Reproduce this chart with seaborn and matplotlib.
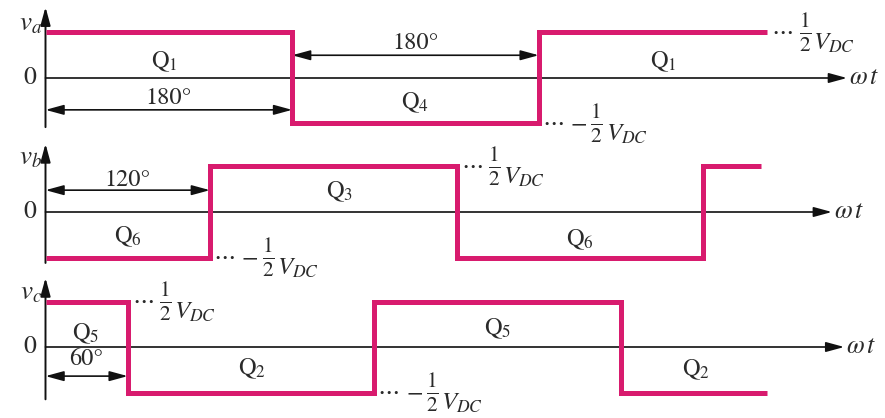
import matplotlib
matplotlib.use("Agg")
import matplotlib.pyplot as plt
import seaborn as sns
import pandas as pd

sns.set_style("white")
plt.rcParams["mathtext.fontset"] = "stix"
plt.rcParams["font.family"] = ["STIXGeneral", "DejaVu Serif"]

# ---- waveform data: switching angles (deg) and output level in units of Vdc/2
switch_a = [0, 180, 360, 527]
level_a = [1, -1, 1, 1]
switch_b = [0, 120, 300, 480, 522]
level_b = [-1, 1, -1, 1, 1]
switch_c = [0, 60, 240, 420, 527]
level_c = [1, -1, 1, -1, -1]

phase_labels = [r"$v_a$", r"$v_b$", r"$v_c$"]

# conducting switch labels: (text, angle, level)
devices_a = [(r"$\mathrm{Q}_1$", 87, 0.36), (r"$\mathrm{Q}_4$", 270, -0.55), (r"$\mathrm{Q}_1$", 451, 0.35)]
devices_b = [(r"$\mathrm{Q}_6$", 60, -0.55), (r"$\mathrm{Q}_3$", 215, 0.44), (r"$\mathrm{Q}_6$", 390, -0.62)]
devices_c = [(r"$\mathrm{Q}_5$", 29, 0.28), (r"$\mathrm{Q}_2$", 151, -0.48),
             (r"$\mathrm{Q}_5$", 330, 0.39), (r"$\mathrm{Q}_2$", 475, -0.5)]

# angle dimensions: (start, end, arrow level, text, text level)
spans_a = [(0, 180, -0.70, "180°", -0.44), (180, 360, 0.50, "180°", 0.77)]
spans_b = [(0, 120, 0.48, "120°", 0.70)]
spans_c = [(0, 60, -0.64, "60°", -0.28)]

# corners where the +/- Vdc/2 levels are annotated
vdc_high = [(527, 1), (300, 1), (60, 1)]
vdc_low = [(360, -1), (120, -1), (240, -1)]

axis_tip = [585, 574, 583]          # end of the wt axis (deg)
yaxis_span = [(-1.08, 1.56), (-1.12, 1.50), (-1.15, 1.52)]

# ---- layout
W, H = 885, 418
PX_PER_DEG = 1.37
X0 = 45.5
AMP = 45.5
zero_rows = [78, 212, 347]
YLO, YHI = -1.6, 1.7
PINK = "#D81B6E"
INK = "#2a2a2a"
FS = 17.5
PT = 0.72  # points per pixel at 100 dpi

fig = plt.figure(figsize=(W / 100, H / 100), dpi=100)

panels = [
    (switch_a, level_a, devices_a, spans_a),
    (switch_b, level_b, devices_b, spans_b),
    (switch_c, level_c, devices_c, spans_c),
]


def note(ax, txt, xy, dx_px, dy_px, size, ha, va):
    ax.annotate(txt, xy=xy, xytext=(dx_px * PT, dy_px * PT), textcoords="offset points",
                fontsize=size, ha=ha, va=va, color=INK, annotation_clip=False)


for i, (sw, lv, devs, spans) in enumerate(panels):
    z = zero_rows[i]
    top = z - YHI * AMP
    bottom = z - YLO * AMP
    ax = fig.add_axes([0, 1 - bottom / H, 1, (bottom - top) / H])
    ax.set_xlim(-X0 / PX_PER_DEG, (W - X0) / PX_PER_DEG)
    ax.set_ylim(YLO, YHI)
    ax.set_axis_off()

    # wt axis and vertical axis with arrow heads
    ax.annotate("", xy=(axis_tip[i], 0), xytext=(0, 0),
                arrowprops=dict(arrowstyle="-|>,head_length=1.1,head_width=0.3",
                                color="#111111", lw=1.2, shrinkA=0, shrinkB=0,
                                mutation_scale=10), zorder=1)
    lo, hi = yaxis_span[i]
    ax.annotate("", xy=(0, hi), xytext=(0, lo),
                arrowprops=dict(arrowstyle="-|>,head_length=1.1,head_width=0.3",
                                color="#111111", lw=1.4, shrinkA=0, shrinkB=0,
                                mutation_scale=10), zorder=1)
    ax.text(axis_tip[i] + 1.2, 0, r"$\omega\,t$", fontsize=FS + 1, ha="left", va="center", color=INK)
    ax.text(-6.9, 0, "0", fontsize=FS + 1, ha="right", va="center", color=INK)
    ax.text(-2.2, 1.18, phase_labels[i], fontsize=FS + 2, ha="right", va="center", color=INK)

    # square wave
    df = pd.DataFrame({"angle": sw, "level": lv})
    sns.lineplot(data=df, x="angle", y="level", ax=ax, color=PINK, lw=3.6,
                 drawstyle="steps-post", estimator=None, sort=False,
                 solid_joinstyle="miter", solid_capstyle="butt", zorder=3)

    for txt, xd, yl in devs:
        ax.text(xd, yl, txt, fontsize=FS, ha="center", va="center", color=INK)

    for x0, x1, ya, txt, yt in spans:
        ax.annotate("", xy=(x1, ya), xytext=(x0, ya),
                    arrowprops=dict(arrowstyle="<|-|>,head_length=1.1,head_width=0.3",
                                    color="#111111", lw=1.2, shrinkA=0, shrinkB=0,
                                    mutation_scale=10), zorder=2)
        ax.text((x0 + x1) / 2, yt, txt, fontsize=FS, ha="center", va="center", color=INK)

    # +Vdc/2 annotation
    hi_xy = vdc_high[i]
    note(ax, r"$\cdots$", hi_xy, 4, 0, FS, "left", "center")
    note(ax, r"$\frac{1}{2}$", hi_xy, 38, 0, FS * 1.25, "center", "center")
    note(ax, r"$V_{DC}$", hi_xy, 46, 1, FS + 0.5, "left", "top")
    # -Vdc/2 annotation
    lo_xy = vdc_low[i]
    note(ax, r"$\cdots$", lo_xy, 3, 0, FS, "left", "center")
    note(ax, r"$-$", lo_xy, 40, 0, FS, "center", "center")
    note(ax, r"$\frac{1}{2}$", lo_xy, 58, 0, FS * 1.25, "center", "center")
    note(ax, r"$V_{DC}$", lo_xy, 67, 1, FS + 0.5, "left", "top")

fig.savefig("out.png", dpi=100, facecolor="white")
